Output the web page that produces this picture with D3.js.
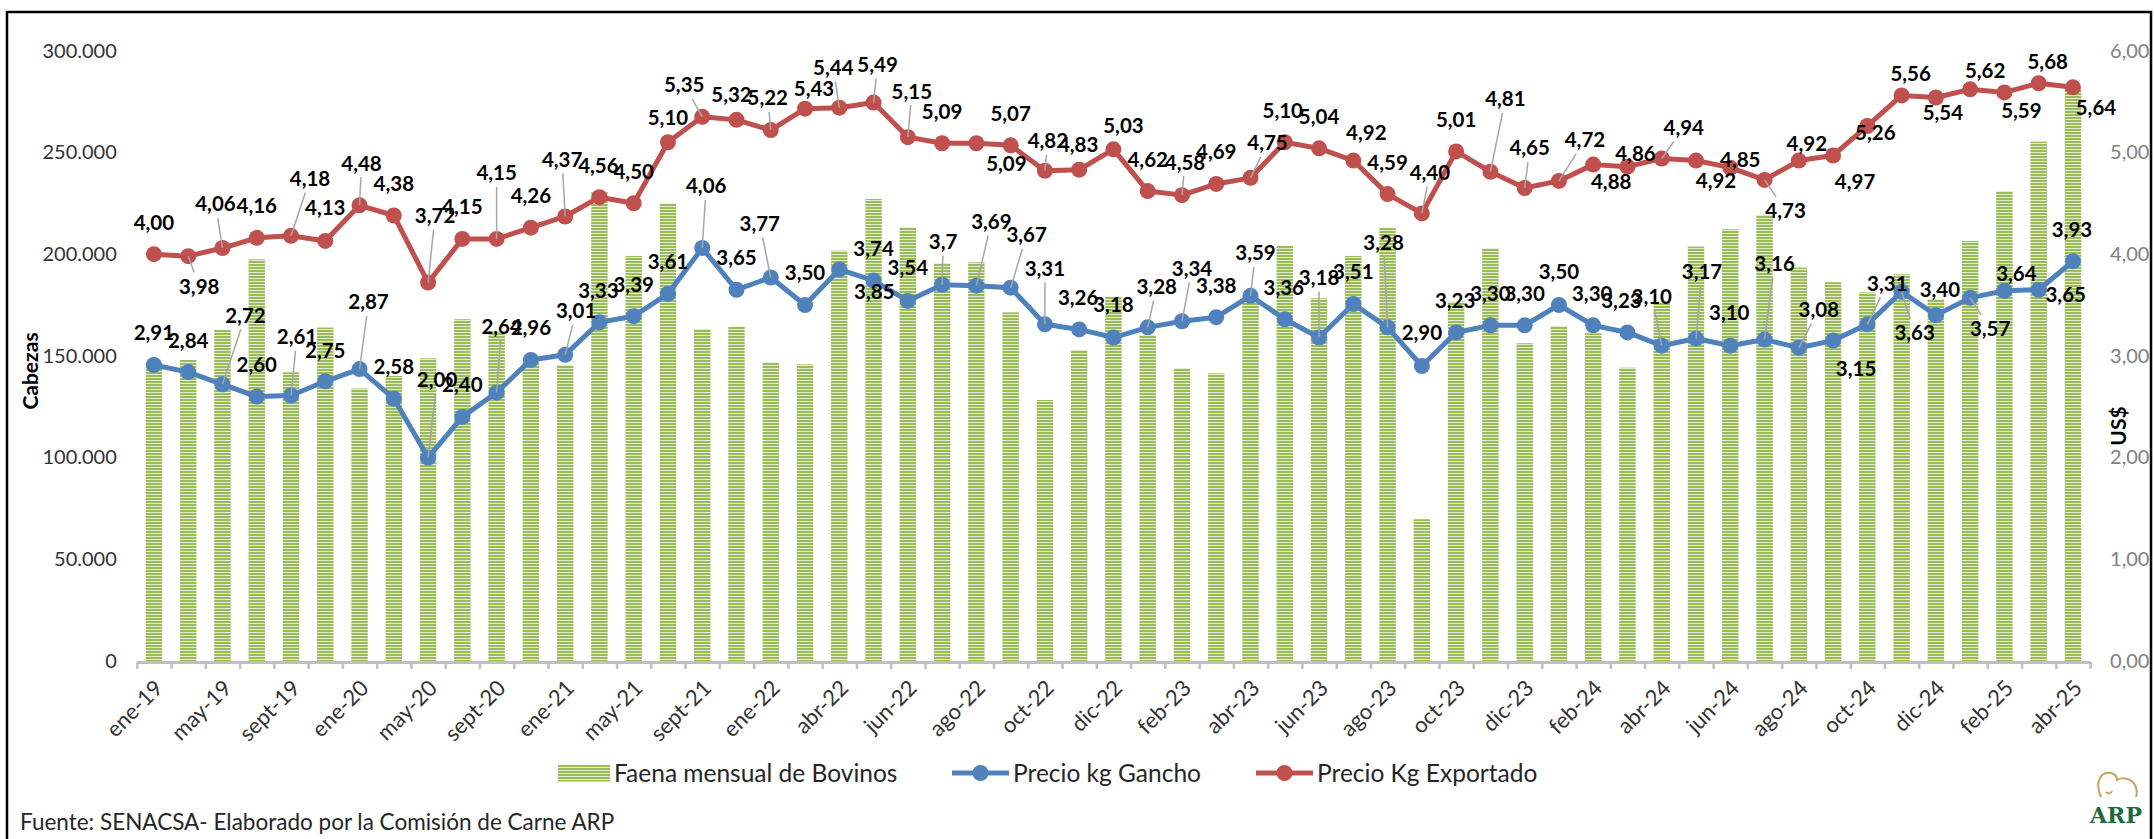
<!DOCTYPE html>
<html lang="es">
<head>
<meta charset="utf-8">
<script src="https://cdn.jsdelivr.net/npm/d3@7"></script>
<style>
  html, body { margin: 0; padding: 0; background: #fff; }
  svg { display: block; font-family: Lato, "Open Sans", sans-serif; }
</style>
</head>
<body>
<svg id="chart" width="2154" height="839"></svg>
<script>
// Categorias (meses). Solo se muestra una etiqueta de cada dos, como en el original
const meses = [
  "ene-19","mar-19","may-19","jul-19","sept-19","nov-19",
  "ene-20","mar-20","may-20","jul-20","sept-20","nov-20",
  "ene-21","mar-21","may-21","jul-21","sept-21","nov-21",
  "ene-22","mar-22","abr-22","may-22","jun-22","jul-22","ago-22","sept-22","oct-22","nov-22","dic-22",
  "ene-23","feb-23","mar-23","abr-23","may-23","jun-23","jul-23","ago-23","sept-23","oct-23","nov-23","dic-23",
  "ene-24","feb-24","mar-24","abr-24","may-24","jun-24","jul-24","ago-24","sept-24","oct-24","nov-24","dic-24",
  "ene-25","feb-25","mar-25","abr-25"
];

// Faena mensual de Bovinos (cabezas)
const faena = [
  146500, 148000, 162700, 197500, 141900, 163900,
  134000, 140100, 148800, 168000, 161900, 147000,
  145500, 230700, 199100, 225000, 163200, 164400,
  146800, 145800, 201700, 227100, 213200, 195500, 196000, 171400, 128300, 152900, 179100,
  160300, 143900, 141400, 179000, 204000, 178300, 199100, 213000, 69700, 176600, 202900, 156200,
  164700, 161100, 144200, 176600, 203700, 212200, 219300, 193400, 186200, 181200, 190100, 178000,
  206500, 231000, 255300, 281000
];

// Precio kg Gancho (US$)
const precioGancho = [
  2.91, 2.84, 2.72, 2.60, 2.61, 2.75,
  2.87, 2.58, 2.00, 2.40, 2.64, 2.96,
  3.01, 3.33, 3.39, 3.61, 4.06, 3.65,
  3.77, 3.50, 3.85, 3.74, 3.54, 3.7, 3.69, 3.67, 3.31, 3.26, 3.18,
  3.28, 3.34, 3.38, 3.59, 3.36, 3.18, 3.51, 3.28, 2.90, 3.23, 3.30, 3.30,
  3.50, 3.30, 3.23, 3.10, 3.17, 3.10, 3.16, 3.08, 3.15, 3.31, 3.63, 3.40,
  3.57, 3.64, 3.65, 3.93
];

// Precio Kg Exportado (US$)
const precioExportado = [
  4.00, 3.98, 4.06, 4.16, 4.18, 4.13,
  4.48, 4.38, 3.72, 4.15, 4.15, 4.26,
  4.37, 4.56, 4.50, 5.10, 5.35, 5.32,
  5.22, 5.43, 5.44, 5.49, 5.15, 5.09, 5.09, 5.07, 4.82, 4.83, 5.03,
  4.62, 4.58, 4.69, 4.75, 5.10, 5.04, 4.92, 4.59, 4.40, 5.01, 4.81, 4.65,
  4.72, 4.88, 4.86, 4.94, 4.92, 4.85, 4.73, 4.92, 4.97, 5.26, 5.56, 5.54,
  5.62, 5.59, 5.68, 5.64
];

// Ticks de los ejes
const ticksCabezas = [0, 50000, 100000, 150000, 200000, 250000, 300000];
const ticksUSD = [0, 1, 2, 3, 4, 5, 6];

// una etiqueta de gancho se muestra con un solo decimal ("3,7")
const ganchoDecimales = { 23: 1 };

// desplazamiento de cada etiqueta de datos [dx, dy, lineaGuia]
const offExportado = [
  [0,-32],[11,30,1],[-7,-44,1],[0,-32],[19,-57,1],[0,-33],
  [2,-42,1],[0,-32],[7,-67,1],[0,-32],[0,-66,1],[0,-32],
  [-3,-57,1],[-1,-32],[0,-32],[0,-25],[-18,-32,1],[-5,-25],
  [-3,-32,1],[9,-20],[-6,-40,1],[4,-38,1],[4,-46,1],[0,-32],[30,20],[0,-32],[3,-30,1],[-1,-25],[10,-24],
  [0,-31],[3,-33,1],[0,-32],[17,-35,1],[-2,-32],[0,-32],[13,-28],[0,-32],[8,-41,1],[0,-32],[15,-73,1],[5,-40,1],
  [26,-41,1],[18,17],[8,-13],[22,-31,1],[20,20],[10,-8],[21,31,1],[8,-17],[22,26],[8,7],[9,-22],[7,15],
  [15,-19],[17,18],[9,-22],[23,20]
];
const offGancho = [
  [0,-32],[0,-32],[23,-69,1],[0,-32],[6,-59,1],[0,-31],
  [9,-67,1],[0,-32],[9,-78,1],[0,-32],[5,-66,1],[0,-32],
  [11,-44,1],[-1,-32],[0,-32],[0,-32],[4,-62,1],[0,-32],
  [-11,-54,1],[0,-32],[35,22],[0,-32],[0,-33],[1,-43,1],[15,-64,1],[16,-53,1],[0,-56,1],[-1,-32],[0,-33],
  [9,-41,1],[10,-53,1],[0,-32],[5,-43,1],[-1,-32],[0,-60,1],[0,-32],[-4,-85,1],[0,-33],[-1,-32],[0,-32],[0,-32],
  [0,-33],[-1,-32],[-6,-32],[-10,-49,1],[6,-67,1],[-1,-33],[10,-76,1],[20,-38,1],[23,28],[20,-41,1],[13,41,1],[4,-26],
  [20,31,1],[12,-17],[27,5],[-1,-32]
];

const width = 2154, height = 839;
const plot = { left: 136.8, right: 2090.1, top: 50.7, bottom: 661 };
const verde = "#9bbb59", azul = "#4f81bd", rojo = "#c0504d";

const es = d3.formatLocale({ decimal: ",", thousands: ".", grouping: [3], currency: ["", "US$"] });
const fmtMiles = es.format(",.0f");
const fmt2 = es.format(".2f");
const fmt1 = es.format(".1f");

const svg = d3.select("#chart");
svg.append("rect").attr("width", width).attr("height", height).attr("fill", "#fff");

// Pattern of the bars (narrow horizontal lines)
const defs = svg.append("defs");
const pat = defs.append("pattern")
  .attr("id", "rayas")
  .attr("patternUnits", "userSpaceOnUse")
  .attr("width", 6).attr("height", 3);
pat.append("rect").attr("width", 6).attr("height", 3).attr("fill", verde);
pat.append("rect").attr("y", 2).attr("width", 6).attr("height", 1).attr("fill", "#e4edd2");

// Scales
const x = d3.scaleBand().domain(meses).range([plot.left, plot.right]).padding(0);
const xc = d => x(d) + x.bandwidth() / 2;
const yL = d3.scaleLinear().domain([0, 300000]).range([plot.bottom, plot.top]);
const yR = d3.scaleLinear().domain([0, 6]).range([plot.bottom, plot.top]);
const barW = x.bandwidth() * 0.48;

// Bars
svg.append("g")
  .selectAll("rect")
  .data(meses)
  .enter()
  .append("rect")
  .attr("x", d => xc(d) - barW / 2)
  .attr("y", (d, i) => yL(faena[i]))
  .attr("width", barW)
  .attr("height", (d, i) => yL(0) - yL(faena[i]))
  .attr("fill", "url(#rayas)");

// Left axis
svg.append("g")
  .attr("transform", `translate(${plot.left},0)`)
  .call(d3.axisLeft(yL).tickValues(ticksCabezas).tickFormat(fmtMiles).tickSize(0).tickPadding(20))
  .call(g => g.select(".domain").remove())
  .selectAll("text")
  .attr("font-size", 20)
  .attr("font-family", "Lato, sans-serif")
  .attr("fill", "#333");

// Right axis
svg.append("g")
  .attr("transform", `translate(${plot.right},0)`)
  .call(d3.axisRight(yR).tickValues(ticksUSD).tickFormat(fmt2).tickSize(0).tickPadding(20))
  .call(g => g.select(".domain").remove())
  .selectAll("text")
  .attr("font-size", 20)
  .attr("font-family", "Lato, sans-serif")
  .attr("fill", "#808080");

// X axis line with ticks between categories
const xBordes = d3.scaleLinear().domain([0, meses.length]).range([plot.left, plot.right]);
svg.append("g")
  .attr("transform", `translate(0,${plot.bottom + 1})`)
  .call(d3.axisBottom(xBordes).tickValues(d3.range(0, meses.length + 1)).tickSize(7).tickSizeOuter(0).tickFormat(""))
  .call(g => g.select(".domain").attr("stroke", "#bfbfbf").attr("stroke-width", 3))
  .call(g => g.selectAll(".tick line").attr("stroke", "#bfbfbf").attr("stroke-width", 2.5));

// X labels (one out of two)
svg.append("g")
  .attr("transform", `translate(0,${plot.bottom})`)
  .call(d3.axisBottom(x).tickSize(0).tickFormat((d, i) => i % 2 === 0 ? d : ""))
  .call(g => g.select(".domain").remove())
  .selectAll("text")
  .attr("x", 0).attr("y", 0).attr("dy", "0.35em")
  .attr("text-anchor", "end")
  .attr("transform", "translate(5,23) rotate(-45)")
  .attr("font-size", 22)
  .attr("font-family", "Lato, sans-serif")
  .attr("fill", "#333");

// Axis titles
svg.append("text")
  .attr("transform", "translate(31,371) rotate(-90)")
  .attr("text-anchor", "middle").attr("dy", "0.35em")
  .attr("font-size", 21).attr("font-weight", "bold")
  .text("Cabezas");

svg.append("text")
  .attr("transform", "translate(2119,426) rotate(-90)")
  .attr("text-anchor", "middle").attr("dy", "0.35em")
  .attr("font-size", 21).attr("font-weight", "bold")
  .text("US$");

// Lines
function drawSerie(values, color) {
  const line = d3.line()
    .x((d, i) => xc(meses[i]))
    .y(d => yR(d));
  svg.append("path")
    .datum(values)
    .attr("fill", "none")
    .attr("stroke", color)
    .attr("stroke-width", 5)
    .attr("stroke-linejoin", "round")
    .attr("d", line);
  svg.append("g")
    .selectAll("circle")
    .data(values)
    .enter()
    .append("circle")
    .attr("cx", (d, i) => xc(meses[i]))
    .attr("cy", d => yR(d))
    .attr("r", 8)
    .attr("fill", color);
}
drawSerie(precioGancho, azul);
drawSerie(precioExportado, rojo);

// Data labels with leader lines
function drawLabels(values, offsets, format) {
  const g = svg.append("g");
  values.forEach((v, i) => {
    const px = xc(meses[i]), py = yR(v);
    const [dx, dy, guia] = offsets[i];
    const lx = px + dx, ly = py + dy;
    if (guia) {
      const hw = 22, hh = 14;
      const s = Math.min(dx ? hw / Math.abs(dx) : Infinity, dy ? hh / Math.abs(dy) : Infinity);
      g.append("line")
        .attr("x1", px).attr("y1", py)
        .attr("x2", lx - dx * s).attr("y2", ly - dy * s)
        .attr("stroke", "#a6a6a6")
        .attr("stroke-width", 1.5);
    }
    g.append("text")
      .attr("x", lx).attr("y", ly)
      .attr("dy", "0.36em")
      .attr("text-anchor", "middle")
      .attr("font-size", 20.5)
      .attr("font-weight", "bold")
      .attr("fill", "#000")
      .text(format(v, i));
  });
}
drawLabels(precioExportado, offExportado, v => fmt2(v));
drawLabels(precioGancho, offGancho, (v, i) => ganchoDecimales[i] === 1 ? fmt1(v) : fmt2(v));

// Legend
const ley = 773;
const legend = svg.append("g").attr("font-size", 24.5).attr("fill", "#262626");
legend.append("rect").attr("x", 558).attr("y", ley - 8.5).attr("width", 52).attr("height", 17).attr("fill", "url(#rayas)");
legend.append("text").attr("x", 614).attr("y", ley).attr("dy", "0.35em").text("Faena mensual de Bovinos");

[[952, azul, "Precio kg Gancho"], [1256, rojo, "Precio Kg Exportado"]].forEach(([lx, c, name]) => {
  legend.append("line").attr("x1", lx).attr("x2", lx + 57).attr("y1", ley).attr("y2", ley)
    .attr("stroke", c).attr("stroke-width", 5);
  legend.append("circle").attr("cx", lx + 28.5).attr("cy", ley).attr("r", 8).attr("fill", c);
  legend.append("text").attr("x", lx + 61).attr("y", ley).attr("dy", "0.35em").text(name);
});

// Source
svg.append("text")
  .attr("x", 20).attr("y", 830)
  .attr("font-size", 22.5)
  .attr("fill", "#262626")
  .text("Fuente: SENACSA- Elaborado por la Comisión de Carne ARP");

// Logo ARP
const logo = svg.append("g");
logo.append("path")
  .attr("d", "M2101,797 C2098,790 2097,783 2100,778 C2102,774 2106,772 2111,773 C2115,774 2117,777 2117,780 C2122,777 2131,778 2135,785 C2137,789 2137,794 2136,797 M2106,792 C2108,794 2111,794 2112,791")
  .attr("fill", "none")
  .attr("stroke", "#c9a25e")
  .attr("stroke-width", 2);
logo.append("text")
  .attr("x", 2116).attr("y", 823)
  .attr("text-anchor", "middle")
  .attr("font-family", "DejaVu Serif, serif")
  .attr("font-weight", "bold")
  .attr("font-size", 22)
  .attr("textLength", 52)
  .attr("fill", "#1d6b3a")
  .text("ARP");

// Border
svg.append("rect")
  .attr("x", 7).attr("y", 12)
  .attr("width", 2144).attr("height", 900)
  .attr("fill", "none")
  .attr("stroke", "#000")
  .attr("stroke-width", 2.5);
</script>
</body>
</html>
